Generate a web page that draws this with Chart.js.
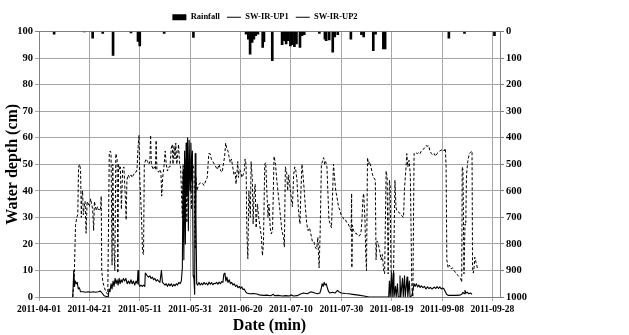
<!DOCTYPE html>
<html>
<head>
<meta charset="utf-8">
<script src="https://cdn.jsdelivr.net/npm/chart.js@4.4.0/dist/chart.umd.min.js"></script>
<style>
  html, body { margin: 0; padding: 0; background: #fff; }
</style>
</head>
<body>
<canvas id="chart" width="629" height="335"></canvas>
<script>
// date tick labels, one every 20 days from 2011-04-01 (day 0)
const tickLabels = ['2011-04-01', '2011-04-21', '2011-05-11', '2011-05-31', '2011-06-20',
  '2011-07-10', '2011-07-30', '2011-08-19', '2011-09-08', '2011-09-28'];
const tickStep = 20;

// rainfall, hanging from the top on the reversed right axis
const rainDays = [6, 18, 21.3, 25.3, 29.4, 36.5, 39.3, 40, 49.7, 61.3, 82.2, 83.1, 83.8, 84.6, 85.3, 86, 86.9,
  88.8, 89.3, 92.6, 96.5, 97.3, 98.1, 98.9, 99.8, 100.5, 101.4, 102.2, 103.6, 104.4, 105.3, 111.3, 113.5, 114,
  115.2, 116.6, 117.4, 118.6, 123.8, 128, 128.9, 132.7, 133.6, 136.7, 137.4, 162.7, 168.9, 180.8];
const rainMm = [10, 2, 25, 7, 90, 5, 37, 54, 7, 22, 10, 29, 85, 41, 29, 16, 10,
  60, 38, 110, 50, 35, 47, 35, 54, 50, 57, 47, 60, 16, 12, 7, 29, 35,
  32, 78, 20, 12, 29, 12, 20, 72, 10, 66, 66, 25, 7, 16];

// SW-IR-UP1 (solid)
const up1Days = [13.4, 13.8, 14.1, 14.4, 14.8, 15.2, 15.6, 16, 16.5, 17.5, 18.5, 19.5, 20.5, 21.5, 22.5, 23.5, 24.4,
  25, 25.8, 26.8, 27.5, 27.8, 28.2, 28.6, 29, 29.4, 29.8, 30.2, 30.6, 31, 31.4, 31.8, 32.2, 32.6, 33, 33.5, 34,
  34.5, 35, 35.5, 36, 36.5, 37, 37.5, 38, 38.5, 39, 39.3, 39.6, 40, 40.5, 41, 41.5, 42, 42.2, 42.6, 43, 43.5, 44,
  44.5, 45, 45.5, 46, 46.5, 47, 47.5, 48, 48.6, 49, 49.5, 50, 50.5, 51, 51.5, 52, 52.5, 53, 53.5, 54, 54.5, 55,
  55.5, 56, 56.5, 56.9, 57.2, 57.5, 57.8, 58.1, 58.4, 58.7, 59, 59.3, 59.6, 60, 60.3, 60.6, 60.9, 61.2, 61.5,
  61.8, 62, 62.3, 62.6, 63, 63.5, 64, 64.5, 65, 65.5, 66, 66.5, 67, 67.5, 68, 68.5, 69, 69.5, 70, 70.5, 71, 71.5,
  72, 72.5, 73, 73.4, 73.8, 74.2, 74.6, 75, 75.5, 76, 76.5, 77, 77.5, 78, 78.5, 79, 79.5, 80, 80.5, 81, 81.5, 82,
  82.5, 83.5, 85, 86.5, 87.5, 89, 90.5, 92, 93, 93.5, 95, 96.5, 98, 99.5, 100, 101, 102.5, 103.6, 105, 106.5, 108,
  109.5, 110.5, 111.5, 112, 112.4, 112.8, 113.2, 113.6, 114, 114.6, 115, 115.5, 116.5, 117.5, 118.5, 119, 120,
  121.5, 123, 124.5, 126, 127.5, 129, 130, 131, 138.8, 139.1, 139.4, 139.9, 140.2, 140.6, 140.9, 141.5, 141.8,
  142.3, 142.6, 143, 143.3, 143.6, 144.3, 144.6, 145.1, 145.4, 146.1, 146.4, 147, 147.3, 148, 148.9, 149.3, 149.8,
  150.3, 150.8, 151.3, 151.8, 152.4, 153, 153.6, 154.2, 154.8, 155.4, 156, 156.9, 157.5, 158, 158.6, 159.1, 159.7,
  160.2, 160.8, 161.3, 161.8, 162.5, 164, 165.5, 167, 167.8, 168.3, 168.8, 169.1, 169.5, 170, 170.6, 171.3, 171.9];
const up1Depth = [0, 10, 4, 6, 5, 5.5, 3, 3.5, 2, 2, 1.8, 2, 1.8, 2, 1.8, 2, 2.2,
  1.5, 0.5, 0.2, 0, 3, 2, 5, 3, 6, 4, 7, 5, 6.5, 4.5, 7, 5, 6.5, 5.5, 7, 6,
  7, 5, 6, 5, 6.5, 5, 6, 4.5, 6, 5, 10, 5, 4, 4.5, 4, 4.5, 4, 9, 8.5, 8, 7.5, 8,
  7, 7.5, 6.5, 7, 6, 6.5, 6, 5.5, 10, 5.5, 5, 4.5, 5, 4, 5, 4.2, 5, 4, 4.8, 4.2, 5, 4.5,
  5.5, 5, 6, 11, 48, 14, 55, 20, 58, 38, 60, 25, 59, 40, 58, 44, 55, 8, 7,
  1, 54, 31, 5, 4.5, 5.5, 4.5, 5.2, 4.6, 5.5, 4.8, 5.2, 4.5, 5.6, 4.8, 5.4, 4.6, 5.2, 5, 5.5, 4.8, 5.6,
  5, 5.8, 5.5, 8.7, 9, 6, 7.5, 5.5, 6.5, 5, 5.5, 4.5, 5, 4, 4.5, 3.5, 4, 3.2, 3.8, 2.8, 3, 2,
  1.5, 1.2, 1.3, 1.1, 0.8, 0.6, 0.7, 0.5, 1, 0.5, 0.6, 0.4, 0.5, 0.4, 0.8, 0.4, 0.5, 1, 1.5, 1.2, 2,
  1.5, 1.2, 1.5, 3, 5, 4, 5.5, 4.5, 5, 3, 2, 1.5, 1.8, 1.5, 2.5, 2, 1.5,
  1.3, 1.2, 1, 0.8, 0.6, 0.4, 0.2, 0, 0, 6, 0, 9, 0, 9, 0, 4, 0,
  5, 0, 0, 8, 0, 7, 0, 8, 0, 7.5, 0, 6, 0, 0.5, 5, 4, 5,
  3.8, 4.5, 3.6, 4.2, 3.5, 4, 3, 3.8, 3.2, 3.6, 3, 3.75, 3.2, 3.9, 3.2, 3.8, 3,
  3.4, 3, 2, 1, 0.6, 0.6, 0.6, 0.7, 1, 1.8, 1.2, 2.5, 1.5, 1.8, 1.2, 1.5, 1];

// SW-IR-UP2 (dashed)
const up2Days = [13.4, 14, 14.5, 15, 15.4, 15.7, 16.1, 16.5, 16.8, 17, 17.3, 17.6, 17.9, 18.3, 18.7, 19.1, 19.6, 20,
  20.5, 20.9, 21.3, 21.7, 22, 22.4, 22.8, 23.2, 23.5, 24, 24.4, 24.7, 24.9, 25.3, 25.8, 26.5, 27.3, 27.9, 28.3, 28.6,
  29, 29.3, 29.7, 30.1, 30.5, 31, 31.3, 31.6, 32, 32.3, 32.7, 33.2, 33.7, 34.3, 34.6, 34.9, 35.4, 35.9, 36.5, 37,
  37.5, 38.1, 38.5, 38.9, 39.3, 39.7, 40, 40.7, 41.1, 41.5, 41.8, 42.5, 43.1, 43.6, 44, 44.3, 44.6, 45.3, 45.8,
  46.2, 46.5, 46.8, 47.5, 48, 48.4, 48.7, 49.1, 49.6, 50.1, 50.5, 51, 51.5, 52, 52.5, 52.9, 53.2, 53.6, 54, 54.3,
  54.7, 55.1, 55.4, 55.8, 56.2, 56.9, 57.2, 57.6, 58, 58.3, 58.7, 59.1, 59.5, 60, 60.5, 61, 61.5, 62, 62.3, 62.7,
  63.2, 64, 64.8, 65.5, 66.3, 66.8, 67.4, 67.9, 68.4, 69, 69.6, 70.2, 70.8, 71.5, 72.1, 72.7, 73.2, 73.7, 74.1,
  74.5, 75, 75.4, 75.9, 76.4, 76.9, 77.4, 77.9, 78.2, 78.6, 78.9, 79.2, 79.5, 80, 80.6, 81, 81.5, 81.8, 82.2,
  82.5, 82.9, 83.3, 83.9, 84.2, 84.7, 85, 85.3, 85.8, 86.2, 86.7, 87.2, 87.8, 88.3, 88.7, 89.1, 89.6, 90, 90.4,
  90.9, 91.3, 91.8, 92.2, 92.7, 93.3, 93.9, 94.4, 95.1, 95.8, 96.4, 97.1, 97.4, 97.8, 98.3, 98.7, 99.1, 99.8,
  100.6, 101.1, 101.5, 101.9, 102.4, 103, 103.6, 104, 104.4, 104.8, 105.3, 105.8, 106.3, 106.8, 107.4, 107.9,
  108.5, 109.1, 109.6, 110.2, 110.7, 111.2, 111.6, 112.1, 112.5, 113, 113.4, 113.8, 114.3, 114.7, 115.1, 115.6,
  116.1, 116.5, 116.9, 117.3, 117.8, 118.3, 118.9, 119.5, 120, 120.6, 121.1, 121.7, 122.2, 122.8, 123.4, 123.9,
  124.1, 124.2, 124.4, 124.9, 125.5, 126, 126.6, 127.2, 127.8, 128.2, 128.6, 128.9, 129.4, 129.7, 130, 130.2,
  130.4, 130.8, 131.2, 131.8, 132.4, 132.9, 133.5, 133.8, 134.1, 134.6, 135.2, 135.8, 136.3, 136.8, 137.2, 137.8,
  138.2, 138.6, 139.1, 139.4, 139.7, 140.2, 140.7, 141.3, 141.7, 142, 142.8, 143.6, 144.1, 144.7, 145.1, 145.6,
  146, 146.4, 146.9, 147.4, 148, 148.4, 148.9, 149.3, 150.2, 150.8, 151.3, 151.8, 152.4, 153, 153.6, 154.1,
  154.7, 155.2, 155.8, 156.3, 156.9, 157.4, 158, 159.1, 160.2, 160.8, 161.3, 161.6, 161.9, 162.4, 162.9, 163.6,
  164.1, 164.7, 165.2, 165.8, 166.3, 166.9, 167.4, 167.8, 168, 168.3, 168.7, 169.1, 169.4, 169.7, 170.2, 170.8,
  171.3, 171.9, 172.1, 172.4, 172.7, 173, 173.5, 174.1];
const up2Depth = [0, 8, 27, 30, 31, 49, 50, 48, 30, 38, 40, 31, 34, 36, 24, 36, 35, 34,
  37, 35, 33, 25, 36, 34, 32.5, 34, 33, 33, 32.5, 38, 10, 6, 4, 2, 1, 54, 55, 54,
  12, 50, 20, 10, 54, 52, 9, 50, 48, 49, 33, 48, 49, 37, 29, 44, 46, 45, 46, 45,
  46, 47, 47, 48, 56, 61, 45, 30, 17, 16, 50, 52, 51, 50, 51, 61, 50, 48, 49,
  48, 59, 48, 47, 48, 47, 38, 45, 49, 55, 50, 47.5, 49, 49, 56, 57.5, 50, 57, 52, 58,
  50, 54, 57.5, 50, 49, 30, 50, 45, 35, 52, 28, 50, 49, 52, 33, 50, 48, 18, 45, 40,
  42, 43, 43, 42, 44, 45, 54, 54, 52, 51, 50, 49, 48, 50, 47.5, 47, 50, 53, 58,
  56, 55, 53, 50.6, 52, 49, 46, 47, 42.5, 47, 51, 45, 48, 47.5, 45, 46, 47.5, 52, 50,
  25, 14.4, 40, 30, 51, 44, 27.5, 37.5, 42.5, 26, 35, 30, 26, 22.5, 15.6, 20, 50, 50.6, 41,
  30, 35, 26, 23.8, 25, 53, 50, 44, 37.5, 31, 25, 22.5, 18.8, 49, 47, 40, 46, 40,
  34, 46, 49, 48, 44, 32.5, 27.5, 41, 50, 46, 40, 33, 27.5, 25, 26, 23.8,
  21, 21, 18.8, 18, 22.5, 11, 24, 50, 51, 52.5, 50, 51, 49, 39, 29, 27.5,
  26, 37.5, 50, 45, 40, 37.5, 34, 32.5, 30.6, 30, 29, 29, 28, 27.5, 26, 25,
  39, 11, 27, 25, 24, 24, 23, 23, 24, 29, 37.5, 39, 29, 16, 10, 30,
  52.5, 50, 51, 49, 46, 45, 44, 14, 21, 20.6, 17.5, 14, 16, 10, 8.75, 47.5,
  45, 8.7, 44, 42, 11, 4, 6, 44, 34, 32.5, 32, 31, 30.5, 30, 41, 47.5,
  54, 49, 51.5, 46, 4, 0, 54, 54.5, 54, 54.5, 54, 55, 55.6, 56, 57, 56.8,
  57, 55, 54, 53.5, 54, 53, 54, 55, 55.6, 55, 56, 49, 14, 11, 12, 10.6,
  11, 10, 9.4, 8.75, 8.1, 7.5, 6.9, 5.6, 49, 48, 8.75, 27.5, 27, 46, 51, 54,
  54.5, 55, 11, 9, 11, 15, 13, 10.6];

const toPoints = (xs, ys) => xs.map((x, i) => ({ x: x, y: ys[i] }));

const serif = "'Liberation Serif', 'Times New Roman', serif";
Chart.defaults.font.family = serif;
Chart.defaults.font.weight = 'bold';
Chart.defaults.color = '#000';

const gridColor = '#a6a6a6';
const axisColor = '#808080';

new Chart(document.getElementById('chart'), {
  type: 'line',
  data: {
    datasets: [
      {
        type: 'bar',
        label: 'Rainfall',
        data: toPoints(rainDays, rainMm),
        yAxisID: 'yR',
        backgroundColor: '#000',
        borderWidth: 0,
        barThickness: 2
      },
      {
        label: 'SW-IR-UP1',
        data: toPoints(up1Days, up1Depth),
        yAxisID: 'y',
        borderColor: '#000',
        backgroundColor: '#000',
        borderWidth: 1.1,
        borderJoinStyle: 'round',
        pointRadius: 0,
        tension: 0
      },
      {
        label: 'SW-IR-UP2',
        data: toPoints(up2Days, up2Depth),
        yAxisID: 'y',
        borderColor: '#000',
        backgroundColor: '#000',
        borderWidth: 1,
        borderDash: [3, 2],
        borderJoinStyle: 'round',
        pointRadius: 0,
        tension: 0
      }
    ]
  },
  options: {
    responsive: false,
    animation: false,
    layout: { padding: { top: 6, right: 99, bottom: 0, left: 0 } },
    plugins: {
      tooltip: { enabled: false },
      legend: {
        position: 'top',
        labels: {
          font: { size: 8.5, weight: 'bold', family: serif },
          usePointStyle: true,
          pointStyleWidth: 14,
          boxHeight: 6,
          padding: 7,
          generateLabels(chart) {
            const items = Chart.defaults.plugins.legend.labels.generateLabels(chart);
            items.forEach(it => { it.pointStyle = it.datasetIndex === 0 ? 'rect' : 'line'; });
            return items;
          }
        }
      }
    },
    scales: {
      x: {
        type: 'linear',
        min: 0,
        max: 183,
        offset: false,
        afterBuildTicks(scale) {
          scale.ticks = tickLabels.map((_, i) => ({ value: i * tickStep }));
        },
        afterFit(scale) { scale.height = 38; },
        ticks: {
          autoSkip: false,
          maxRotation: 0,
          padding: 3,
          font: { size: 9.5, weight: 'bold' },
          callback: (v) => tickLabels[Math.round(v / tickStep)]
        },
        grid: { color: gridColor, tickLength: 4, offset: false },
        border: { color: axisColor },
        title: {
          display: true,
          text: 'Date (min)',
          font: { size: 16, weight: 'bold' },
          padding: { top: 0, bottom: 0 }
        }
      },
      y: {
        position: 'left',
        min: 0,
        max: 100,
        afterFit(scale) { scale.width = 39; },
        ticks: { stepSize: 10, padding: 2, font: { size: 10.5, weight: 'bold' } },
        grid: {
          color: (ctx) => (ctx.tick && ctx.tick.value === 100 ? axisColor : gridColor),
          tickLength: 4
        },
        border: { color: axisColor },
        title: {
          display: true,
          text: 'Water depth (cm)',
          font: { size: 16, weight: 'bold' },
          padding: { top: 3, bottom: 0 }
        }
      },
      yR: {
        position: 'right',
        min: 0,
        max: 1000,
        reverse: true,
        afterFit(scale) { scale.width = 30; },
        ticks: {
          stepSize: 100,
          padding: 2,
          font: { size: 10.5, weight: 'bold' },
          callback: (v) => String(v)
        },
        grid: { drawOnChartArea: false, color: axisColor, tickLength: 4 },
        border: { color: axisColor }
      }
    }
  }
});
</script>
</body>
</html>
